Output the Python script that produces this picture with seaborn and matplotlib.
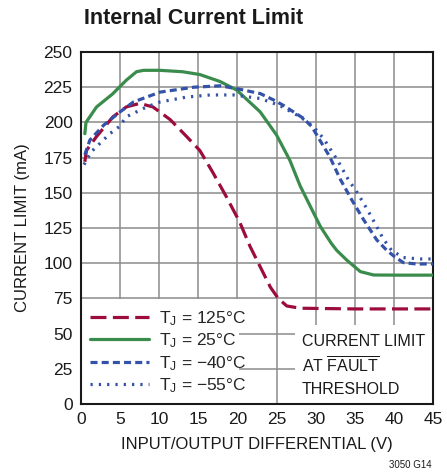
import numpy as np
import pandas as pd
import matplotlib
matplotlib.use('Agg')
import matplotlib.pyplot as plt
import seaborn as sns
from matplotlib.patches import Rectangle
from matplotlib.lines import Line2D

# Read-off values for each junction temperature
v_125 = [0.5, 0.7, 2, 4.1, 5.8, 7.5, 9.2, 11.4, 13.5, 15.2, 16.9, 18.6, 20.3, 21.6, 22.9, 24.2, 25.2, 26.3, 28, 35, 45]
i_125 = [172, 180, 190, 204, 211, 213.5, 211, 202, 190, 180, 164, 147, 129, 112, 97.5, 83, 75, 69.6, 68, 67.5, 67.5]

v_25 = [0.5, 0.65, 2, 4, 5.8, 7.1, 8, 10.1, 13, 15.2, 17.8, 19.9, 22.9, 25, 26.7, 28, 29.7, 30.6, 32, 32.7, 34, 35.7, 37.4, 40.5, 45]
i_25 = [192, 200, 211, 220, 230, 236, 237, 237, 236, 234, 229, 223, 207.5, 191, 173, 155, 136, 126, 114, 109, 102, 94, 91.6, 91.5, 91.5]

v_m40 = [0.5, 1.15, 2.9, 5, 6.7, 10.1, 14.4, 17.8, 19.9, 22.9, 24.6, 25.9, 28.4, 29.5, 31.8, 33.1, 34.6, 36.1, 37.8, 39.1, 40.1, 41.2, 42.9, 45]
i_m40 = [177, 187.5, 198, 207.5, 214.5, 221.5, 225, 226, 224, 220.5, 216, 212, 203, 197, 175.5, 160, 145, 131, 116.5, 109, 104.5, 100.4, 99.4, 99.5]

v_m55 = [0.4, 1.3, 2.6, 3.7, 4.9, 5.8, 8.4, 10.1, 13.5, 16.5, 19.5, 22.9, 25.4, 28, 29.7, 31, 32.9, 34.2, 35.2, 36.5, 37.8, 38.6, 39.7, 41.2, 43.3, 45]
i_m55 = [170, 179, 186, 192, 197, 204, 211, 214.5, 218, 219.5, 219.5, 217, 212, 204, 197, 188.5, 172, 159, 151, 139, 126, 117.5, 109, 104, 103, 103]

labels = [r'$\mathrm{T_J}$ = 125°C', r'$\mathrm{T_J}$ = 25°C', r'$\mathrm{T_J}$ = −40°C', r'$\mathrm{T_J}$ = −55°C']
colors = ['#9c0c3c', '#3a8c4c', '#3352a8', '#3352a8']
styles = [(0, (5, 2)), '-', (0, (2.2, 1.3)), (0, (0.7, 1.9))]

sns.set_style('white')
font = ['Liberation Sans', 'DejaVu Sans']
plt.rcParams['font.family'] = font
plt.rcParams['mathtext.fontset'] = 'custom'
plt.rcParams['mathtext.rm'] = 'Liberation Sans'
plt.rcParams['mathtext.it'] = 'Liberation Sans:italic'

fig = plt.figure(figsize=(4.47, 4.73), dpi=100)
ax = fig.add_axes([0.181, 0.146, 0.788, 0.744])

series = [(v_125, i_125), (v_25, i_25), (v_m40, i_m40), (v_m55, i_m55)]
for (vx, iy), lab, c, ls in zip(series, labels, colors, styles):
    df = pd.DataFrame({'v': vx, 'i': iy})
    sns.lineplot(data=df, x='v', y='i', ax=ax, color=c, linestyle=ls, linewidth=2.3,
                 sort=False, estimator=None, zorder=3)

ax.set_xlim(0, 45)
ax.set_ylim(0, 250)
ax.set_xticks(np.arange(0, 46, 5))
ax.set_yticks(np.arange(0, 251, 25))
ax.grid(True, color='#8c8c8c', linewidth=1.1)
ax.set_axisbelow(True)
for s in ax.spines.values():
    s.set_color('#1a1a1a')
    s.set_linewidth(1.5)
ax.tick_params(direction='in', length=3, width=1, colors='#1a1a1a', labelsize=12.5, pad=6)

# white boxes behind legend and note
ax.add_patch(Rectangle((0, 0), 20.25, 74.4, facecolor='white', edgecolor='none', zorder=1.5))
ax.add_patch(Rectangle((27.4, 0), 17.6, 56, facecolor='white', edgecolor='none', zorder=1.5))

handles = [Line2D([], [], color=c, linestyle=ls, linewidth=2.3) for c, ls in zip(colors, styles)]
leg = ax.legend(handles, labels, loc='lower left', bbox_to_anchor=(0.0, 0.0), frameon=False,
                fontsize=12.5, handlelength=3.4, handletextpad=0.6, labelspacing=0.22,
                borderaxespad=0.2, borderpad=0.3)
leg.set_zorder(4)

ax.text(28.2, 50, 'CURRENT LIMIT\nAT $\\overline{\\mathrm{FAULT}}$\nTHRESHOLD', fontsize=11.5,
        va='top', ha='left', color='#1a1a1a', linespacing=1.45, zorder=4)

ax.set_xlabel('INPUT/OUTPUT DIFFERENTIAL (V)', fontsize=12, color='#1a1a1a', labelpad=7)
ax.set_ylabel('CURRENT LIMIT (mA)', fontsize=12, color='#1a1a1a', labelpad=10)

fig.text(84 / 447, 1 - 19 / 473, 'Internal Current Limit', fontsize=15.5, fontweight='bold',
         va='center', ha='left', color='#1a1a1a')
fig.text(432 / 447, 1 - 465 / 473, '3050 G14', fontsize=7, ha='right', va='center', color='#1a1a1a')

fig.savefig('out.png', dpi=100)
